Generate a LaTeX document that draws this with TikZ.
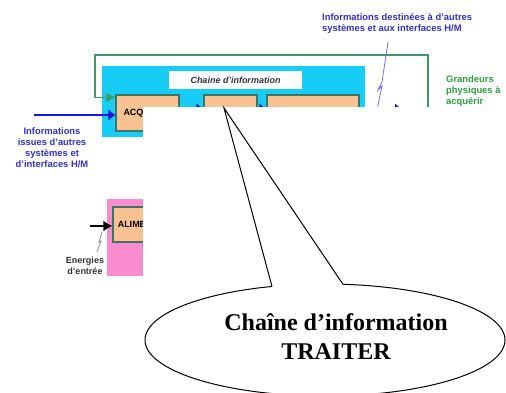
\documentclass[tikz,border=0pt]{standalone}
\usepackage{fontspec}
\setmainfont{Liberation Sans}
\newfontfamily\bubblefont{Liberation Serif}
\usepackage{tikz}
\usetikzlibrary{arrows.meta}
\definecolor{syscyan}{HTML}{17CCF5}
\definecolor{syspink}{HTML}{F98BCF}
\definecolor{syspeach}{HTML}{F9C293}
\definecolor{sysedge}{HTML}{3E7466}
\definecolor{sysgreen}{HTML}{3C9A68}
\definecolor{sysgtext}{HTML}{2E9E3E}
\definecolor{sysblue}{HTML}{3232C8}
\definecolor{sysarrow}{HTML}{1515E0}
\definecolor{sysbolt}{HTML}{7070E0}
\definecolor{sysdark}{HTML}{333333}
\tikzset{
  blk/.style={draw=sysedge,fill=syspeach,line width=1.1pt,inner sep=0pt,font=\fontsize{9}{11}\selectfont\bfseries},
  info/.style={inner sep=0pt,font=\fontsize{9.4}{11}\selectfont\bfseries,text=sysblue},
  ginfo/.style={info,text=sysgtext,align=left},
  flow/.style={-{Latex[length=7pt,width=12pt]},draw=sysarrow,line width=1.4pt},
  fb/.style={-{Latex[length=9pt,width=10pt]},draw=sysgreen,line width=1.6pt},
  pwr/.style={-{Latex[length=9pt,width=11pt]},draw=black,line width=2pt},
  bolt/.style={draw=sysbolt,line width=0.8pt},
  bubble/.style={draw=black,fill=white,line width=1pt},
}
\begin{document}
\begin{tikzpicture}[x=1pt,y=-1pt]
  \useasboundingbox (0,0) rectangle (506,392);
  % chaine d'information
  \fill[syscyan] (102,66) rectangle (365,137);
  \node[draw=none,fill=white,minimum width=133pt,minimum height=18pt,inner sep=0pt,
        font=\fontsize{9}{11}\selectfont\bfseries\itshape,text=sysdark] (title) at (235.5,80) {Chaine d'information};
  \node[blk,minimum width=63pt,minimum height=36pt] (acq) at (147.5,113) {ACQUERIR};
  \node[blk,minimum width=53pt,minimum height=36pt] (trt) at (230.5,113) {TRAITER};
  \node[blk,minimum width=92pt,minimum height=36pt] (com) at (313,113) {COMMUNIQUER};
  \coordinate (in) at (34,115);
  \coordinate (out) at (402,109);
  \coordinate (sense) at (428,200);
  \coordinate (loop) at (95,55);
  \draw[flow] (in) -- (acq.west |- in);
  \draw[flow] ([yshift=4pt]acq.east) -- ([yshift=4pt]trt.west);
  \draw[flow] ([yshift=4pt]trt.east) -- ([yshift=4pt]com.west);
  \draw[flow] ([yshift=4pt]com.east) -- (out);
  \draw[fb] (sense) |- (loop) |- ([yshift=-3pt]acq.north west);
  \draw[bolt] (388,42) -- (382,82) -- (378,90) -- (382,86) -- (376,115);
  \node[info,align=left,anchor=north west] (dest) at (322,13) {Informations destinées à d'autres\\systèmes et aux interfaces H/M};
  \node[ginfo,anchor=north west] (phys) at (446,75.5) {Grandeurs\\physiques à\\acquérir};
  \node[info,align=center] (src) at (52,148) {Informations\\issues d'autres\\systèmes et\\d'interfaces H/M};
  % chaine d'energie
  \fill[syspink] (107,199) rectangle (180,276);
  \node[blk,minimum width=62pt,minimum height=35pt] (alim) at (144,224.5) {ALIMENTER};
  \coordinate (ein) at (90,226);
  \draw[pwr] (ein) -- (alim.west |- ein);
  \draw[draw=gray,line width=0.7pt] (102,232) -- (99,242) -- (101,241) -- (97,252);
  \node[inner sep=0pt,align=center,font=\fontsize{9}{11}\selectfont\bfseries,text=sysdark] (nrj) at (85,265.5) {Energies\\d'entrée};
  % bulle
  \fill[white] (143,107) rectangle (506,392);
  \coordinate (tip) at (224,108);
  \coordinate (baseL) at (272,286.5);
  \coordinate (baseR) at (343,284.3);
  \draw[bubble] (325,340) ellipse [x radius=180pt,y radius=56pt];
  \fill[white] (baseL) -- (tip) -- (baseR) -- (343,292) -- (272,292) -- cycle;
  \draw[line width=1pt,line join=miter] (baseL) -- (tip) -- (baseR);
  \node[align=center,inner sep=0pt,font=\bubblefont\fontsize{24}{29}\selectfont\bfseries] (say) at (336,337) {Chaîne d’information\\TRAITER};
\end{tikzpicture}
\end{document}
